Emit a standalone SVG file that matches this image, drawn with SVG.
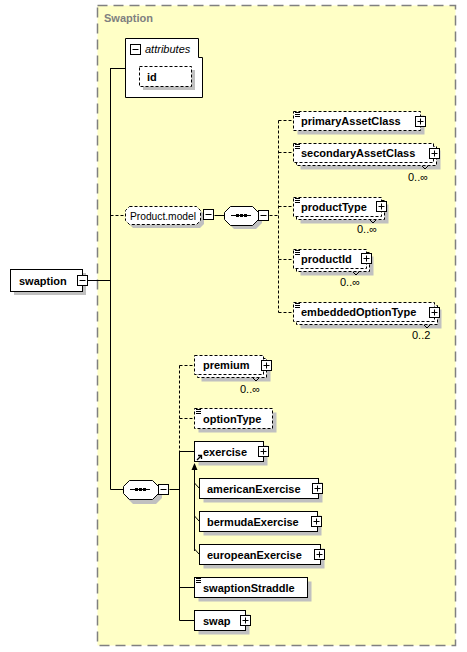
<svg xmlns="http://www.w3.org/2000/svg" width="467" height="652" viewBox="0 0 467 652">
<style>
.bx{fill:#fff;stroke:#000;stroke-width:1}
.ds{stroke-dasharray:3,2}
.sh{fill:#c0c0c0;stroke:none}
.ln{fill:none;stroke:#000;stroke-width:1}
.t{font-family:"Liberation Sans",Arial,sans-serif;font-size:11px;font-weight:bold;fill:#000}
.n{font-family:"Liberation Sans",Arial,sans-serif;font-size:11px;fill:#000}
</style>
<defs>
<g id="plus"><rect x="0.5" y="0.5" width="10" height="10" fill="#fff" stroke="#000"/><path d="M2.5,5.5H8.5M5.5,2.5V8.5" stroke="#000"/></g>
<g id="minus"><rect x="0.5" y="0.5" width="10" height="10" fill="#fff" stroke="#000"/><path d="M2.5,5.5H8.5" stroke="#000"/></g>
<g id="doc"><path d="M0,0.5H5M0,2.5H5M0,4.5H5" stroke="#000" fill="none"/></g>
<g id="seqdots"><path d="M0,0.5H20" stroke="#000"/><rect x="5" y="-1" width="3" height="3" fill="#000"/><rect x="9" y="-1" width="3" height="3" fill="#000"/><rect x="13" y="-1" width="3" height="3" fill="#000"/></g>
</defs>

<g id="Swaption">
<rect x="97.5" y="5.5" width="358" height="640" fill="#ffffc6" stroke="#808080" stroke-width="1.5" stroke-dasharray="10,6"/>
<text x="104" y="22" class="t" style="fill:#808080">Swaption</text>
</g>

<g id="connectors">
<path class="ln" d="M88,280.5H110.5M110.5,68V489.5M110.5,68.5H125M110.5,489.5H123"/>
<path class="ln ds" d="M110.5,215.5H124.5"/>
<path class="ln" d="M214.5,215.5H224"/>
<path class="ln ds" d="M269.5,215.5H278.5M278.5,120.5V312.5M278.5,120.5H293M278.5,152.5H293M278.5,206.5H293M278.5,259.5H293M278.5,312.5H293"/>
<path class="ln" d="M169.5,489.5H179.5"/>
<path class="ln ds" d="M179.5,365.5V451M179.5,365.5H194M179.5,418.5H194"/>
<path class="ln" d="M179.5,451V620.5M179.5,451.5H194M179.5,587.5H194M179.5,620.5H194"/>
<path class="ln" d="M194.5,469V551M194.5,483L199.5,488.5M194.5,516L199.5,521.5M194.5,549L199.5,554.5"/>
<path d="M194.5,463L191.5,470H197.5Z" fill="#000"/>
</g>

<g id="swaption">
<rect class="sh" x="14" y="273" width="72" height="22"/>
<rect class="bx" x="10.5" y="269.5" width="72" height="22"/>
<text class="t" x="19" y="284.5">swaption</text>
<use href="#minus" x="77" y="275"/>
</g>

<g id="attributes">
<path class="bx" d="M125.5,38.5H198.5V57.5H202.5V97.5H125.5Z"/>
<use href="#minus" x="130" y="44"/>
<text class="n" x="145" y="53" font-style="italic">attributes</text>
</g>

<g id="id">
<rect class="sh" x="143" y="70" width="52" height="20"/>
<rect class="bx ds" x="139.5" y="66.5" width="52" height="20"/>
<text class="t" x="147" y="81">id</text>
</g>

<g id="Product.model">
<path class="sh" d="M133,210H200L204,214V224L200,228H133L129,224V214Z"/>
<path class="bx ds" d="M129.5,206.5H196.5L200.5,210.5V220.5L196.5,224.5H129.5L125.5,220.5V210.5Z"/>
<text class="n" x="130" y="219.5" textLength="66" lengthAdjust="spacingAndGlyphs">Product.model</text>
<use href="#minus" x="203" y="209"/>
</g>

<g id="sequence1">
<path class="sh" d="M234,210H256L262,216V223L256,229H234L228,223V216Z"/>
<path class="bx" d="M230.5,206.5H252.5L258.5,212.5V219.5L252.5,225.5H230.5L224.5,219.5V212.5Z"/>
<use href="#seqdots" x="231" y="215"/>
<use href="#minus" x="258" y="210"/>
</g>

<g id="primaryAssetClass">
<rect class="sh" x="297.5" y="115.5" width="127" height="19"/>
<rect class="bx ds" x="293.5" y="111.5" width="127" height="19"/>
<use href="#doc" x="295" y="112"/>
<text class="t" x="301" y="125">primaryAssetClass</text>
<use href="#plus" x="415" y="116"/>
</g>

<g id="secondaryAssetClass">
<rect class="sh" x="300.5" y="150.5" width="140" height="19"/>
<rect class="bx ds" x="296.5" y="146.5" width="140" height="19"/>
<rect class="bx ds" x="293.5" y="143.5" width="140" height="19"/>
<use href="#doc" x="295" y="144"/>
<text class="t" x="301" y="157">secondaryAssetClass</text>
<use href="#plus" x="429" y="148"/>
<path class="ln" d="M422,166L425,169L428,166"/>
<text class="n" x="408" y="181">0..∞</text>
</g>

<g id="productType">
<rect class="sh" x="300.5" y="204.5" width="88" height="19"/>
<rect class="bx ds" x="296.5" y="200.5" width="88" height="19"/>
<rect class="bx ds" x="293.5" y="197.5" width="88" height="19"/>
<use href="#doc" x="295" y="198"/>
<text class="t" x="301" y="211">productType</text>
<use href="#plus" x="376" y="201"/>
<path class="ln" d="M370,220L373,223L376,220"/>
<text class="n" x="357" y="233">0..∞</text>
</g>

<g id="productId">
<rect class="sh" x="300.5" y="256.5" width="73" height="19"/>
<rect class="bx ds" x="296.5" y="252.5" width="73" height="19"/>
<rect class="bx ds" x="293.5" y="249.5" width="73" height="19"/>
<use href="#doc" x="295" y="250"/>
<text class="t" x="301" y="263">productId</text>
<use href="#plus" x="361" y="253"/>
<path class="ln" d="M353,272L356,275L359,272"/>
<text class="n" x="340" y="286">0..∞</text>
</g>

<g id="embeddedOptionType">
<rect class="sh" x="300.5" y="309.5" width="141" height="19"/>
<rect class="bx ds" x="296.5" y="305.5" width="141" height="19"/>
<rect class="bx ds" x="293.5" y="302.5" width="141" height="19"/>
<use href="#doc" x="295" y="303"/>
<text class="t" x="301" y="316">embeddedOptionType</text>
<use href="#plus" x="429" y="307"/>
<path class="ln" d="M424,325L427,328L430,325"/>
<text class="n" x="412" y="339">0..2</text>
</g>

<g id="sequence2">
<path class="sh" d="M133,485H156L162,491V498L156,504H133L127,498V491Z"/>
<path class="bx" d="M129.5,480.5H152.5L158.5,486.5V493.5L152.5,499.5H129.5L123.5,493.5V486.5Z"/>
<use href="#seqdots" x="130" y="489"/>
<use href="#minus" x="158" y="484"/>
</g>

<g id="premium">
<rect class="sh" x="201.5" y="362.5" width="69" height="19"/>
<rect class="bx ds" x="197.5" y="358.5" width="69" height="19"/>
<rect class="bx ds" x="194.5" y="355.5" width="69" height="19"/>
<text class="t" x="203" y="369">premium</text>
<use href="#plus" x="261" y="360"/>
<path class="ln" d="M253,378L256,381L259,378"/>
<text class="n" x="240" y="393">0..∞</text>
</g>

<g id="optionType">
<rect class="sh" x="198.5" y="412.5" width="78" height="20"/>
<rect class="bx ds" x="194.5" y="408.5" width="78" height="20"/>
<use href="#doc" x="196" y="409"/>
<text class="t" x="203" y="422.5">optionType</text>
</g>

<g id="exercise">
<rect class="sh" x="198.5" y="445.5" width="69" height="20"/>
<rect class="bx" x="194.5" y="441.5" width="69" height="20"/>
<text class="t" x="203" y="455.5">exercise</text>
<use href="#plus" x="258" y="446"/>
<path d="M197,460L201,456M198,455.5H201.5V459" stroke="#000" fill="none" stroke-width="1.3"/>
</g>

<g id="americanExercise">
<rect class="sh" x="203.5" y="482.5" width="119" height="20"/>
<rect class="bx" x="199.5" y="478.5" width="119" height="20"/>
<text class="t" x="207" y="492.5">americanExercise</text>
<use href="#plus" x="312" y="483"/>
</g>

<g id="bermudaExercise">
<rect class="sh" x="203.5" y="515.5" width="118" height="20"/>
<rect class="bx" x="199.5" y="511.5" width="118" height="20"/>
<text class="t" x="207" y="525.5">bermudaExercise</text>
<use href="#plus" x="311" y="516"/>
</g>

<g id="europeanExercise">
<rect class="sh" x="203.5" y="548.5" width="121" height="20"/>
<rect class="bx" x="199.5" y="544.5" width="121" height="20"/>
<text class="t" x="207" y="558.5">europeanExercise</text>
<use href="#plus" x="314" y="549"/>
</g>

<g id="swaptionStraddle">
<rect class="sh" x="198.5" y="581.5" width="113" height="20"/>
<rect class="bx" x="194.5" y="577.5" width="113" height="20"/>
<use href="#doc" x="196" y="578"/>
<text class="t" x="203" y="591.5">swaptionStraddle</text>
</g>

<g id="swap">
<rect class="sh" x="198.5" y="614.5" width="51" height="20"/>
<rect class="bx" x="194.5" y="610.5" width="51" height="20"/>
<text class="t" x="203" y="624.5">swap</text>
<use href="#plus" x="240" y="615"/>
</g>
</svg>
